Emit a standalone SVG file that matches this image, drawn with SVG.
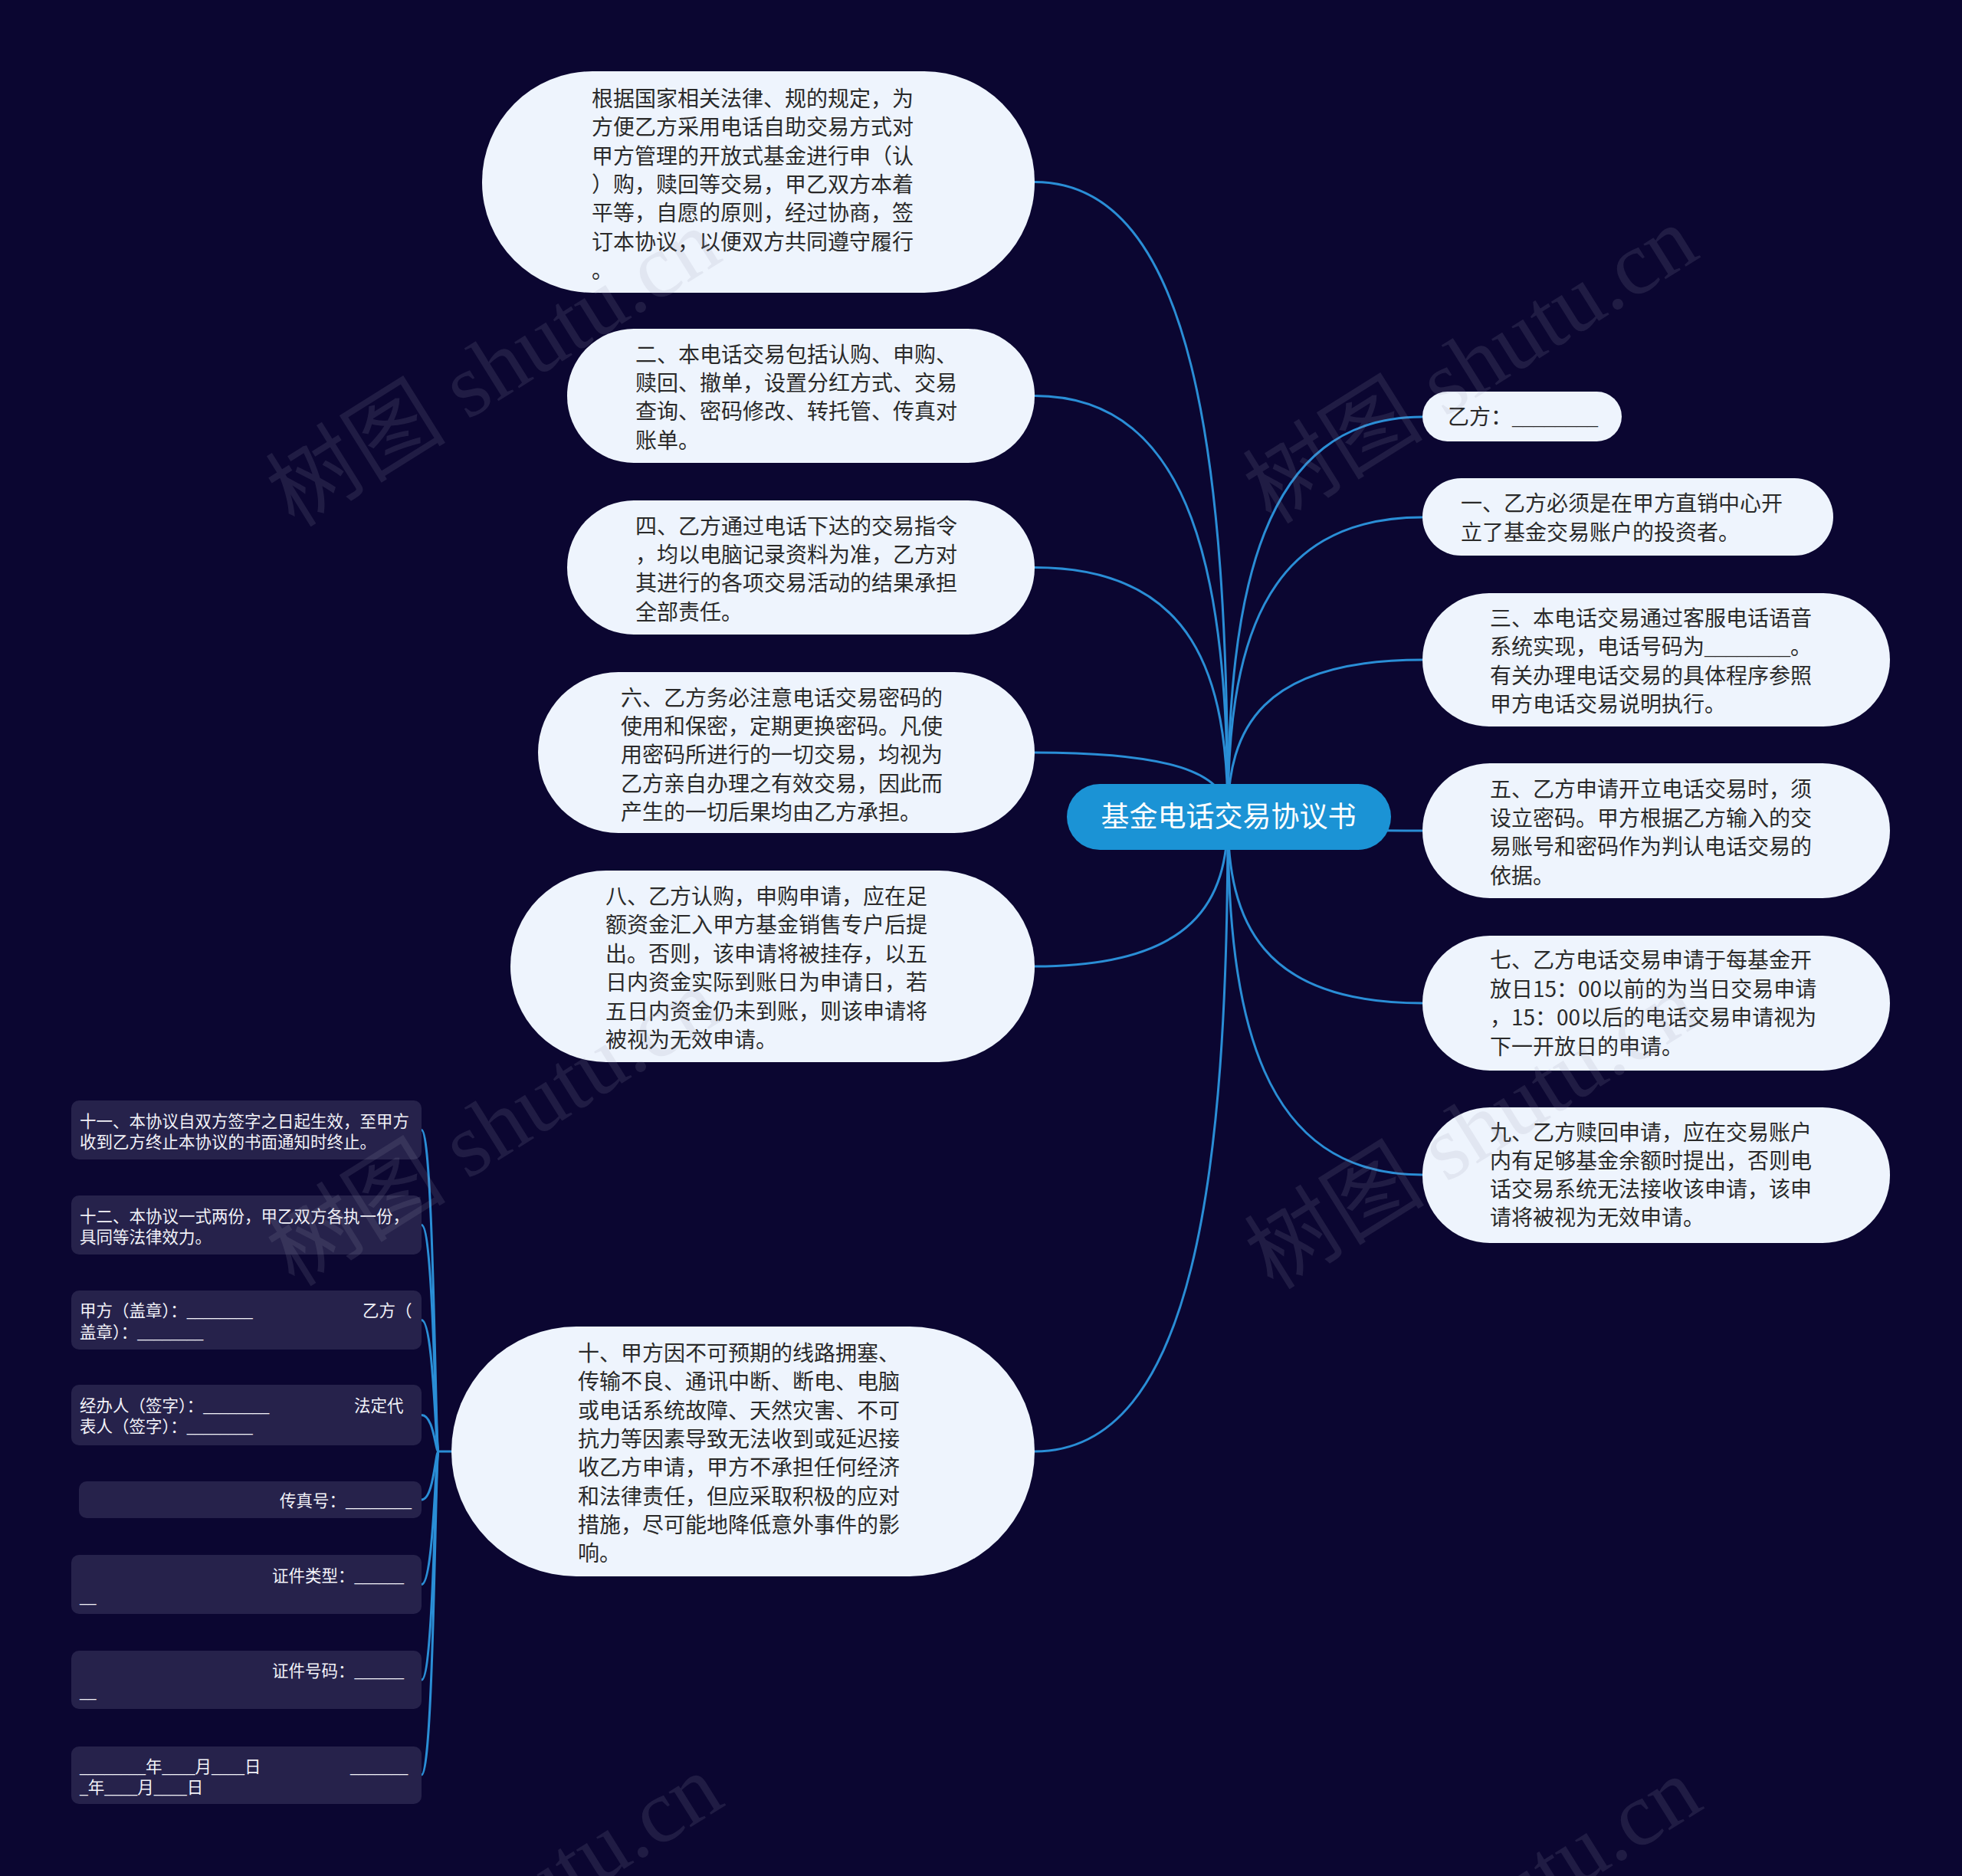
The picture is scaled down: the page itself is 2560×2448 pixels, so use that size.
<svg xmlns="http://www.w3.org/2000/svg" width="2560" height="2448" viewBox="0 0 2560 2448">
<style>
.bg{fill:#0b0631}
.pill{fill:#eef4fd}
.dark{fill:#26224b}
.root{fill:#1b93d5}
.t{font-family:"Noto Sans CJK SC","Noto Sans",sans-serif;font-size:28px;fill:#2a2a2a}
.dt{font-family:"Noto Sans CJK SC","Noto Sans",sans-serif;font-size:21.5px;fill:#f2f2f8}
.rt{font-family:"Noto Sans CJK SC","Noto Sans",sans-serif;font-size:37px;fill:#ffffff}
.u{font-family:"Liberation Serif",serif}
.link{fill:none;stroke:#2a8ed6;stroke-width:3}
.wm{font-family:"Liberation Serif","Noto Sans CJK SC",serif;font-size:118px;fill:#9a9ab0;opacity:0.15}
</style>
<rect class="bg" x="0" y="0" width="2560" height="2448"/>
<g id="connectors">
<path class="link" d="M1602,1066 C1602,602 1559,237.5 1350,237.5"/>
<path class="link" d="M1602,1066 C1602,758 1559,516.5 1350,516.5"/>
<path class="link" d="M1602,1066 C1602,884 1559,740.5 1350,740.5"/>
<path class="link" d="M1602,1066 C1602,1019 1559,982 1350,982"/>
<path class="link" d="M1602,1066 C1602,1175 1559,1261 1350,1261"/>
<path class="link" d="M1602,1066 C1602,1530 1559,1894 1350,1894"/>
<path class="link" d="M1602,1066 C1602,774 1645,544 1856,544"/>
<path class="link" d="M1602,1066 C1602,847 1645,675 1856,675"/>
<path class="link" d="M1602,1066 C1602,951 1645,861 1856,861"/>
<path class="link" d="M1602,1066 C1602,1076 1645,1084 1856,1084"/>
<path class="link" d="M1602,1066 C1602,1202 1645,1309 1856,1309"/>
<path class="link" d="M1602,1066 C1602,1328 1645,1533 1856,1533"/>
<path class="link" d="M590,1894 L572,1894"/>
<path class="link" d="M572,1894 C568,1894 566,1474.5 550,1474.5"/>
<path class="link" d="M572,1894 C568,1894 566,1598.5 550,1598.5"/>
<path class="link" d="M572,1894 C568,1894 566,1722.5 550,1722.5"/>
<path class="link" d="M572,1894 C568,1894 566,1846.5 550,1846.5"/>
<path class="link" d="M572,1894 C568,1894 566,1957 550,1957"/>
<path class="link" d="M572,1894 C568,1894 566,2067.5 550,2067.5"/>
<path class="link" d="M572,1894 C568,1894 566,2192 550,2192"/>
<path class="link" d="M572,1894 C568,1894 566,2316 550,2316"/>
</g>
<g id="root">
<rect class="root" x="1392" y="1023" width="423" height="86" rx="43"/>
<text class="rt" x="1603" y="1079" text-anchor="middle">基金电话交易协议书</text>
</g>
<g id="n1">
<rect class="pill" x="629" y="93" width="721" height="289" rx="144"/>
<text class="t" x="772" y="139"><tspan x="772">根据国家相关法律、规的规定，为</tspan><tspan x="772" dy="37.3">方便乙方采用电话自助交易方式对</tspan><tspan x="772" dy="37.3">甲方管理的开放式基金进行申（认</tspan><tspan x="772" dy="37.3">）购，赎回等交易，甲乙双方本着</tspan><tspan x="772" dy="37.3">平等，自愿的原则，经过协商，签</tspan><tspan x="772" dy="37.3">订本协议，以便双方共同遵守履行</tspan><tspan x="772" dy="37.3">。</tspan></text>
</g>
<g id="n2">
<rect class="pill" x="740" y="429" width="610" height="175" rx="87"/>
<text class="t" x="829" y="473"><tspan x="829">二、本电话交易包括认购、申购、</tspan><tspan x="829" dy="37.2">赎回、撤单，设置分红方式、交易</tspan><tspan x="829" dy="37.2">查询、密码修改、转托管、传真对</tspan><tspan x="829" dy="37.2">账单。</tspan></text>
</g>
<g id="n3">
<rect class="pill" x="740" y="653" width="610" height="175" rx="87"/>
<text class="t" x="829" y="697"><tspan x="829">四、乙方通过电话下达的交易指令</tspan><tspan x="829" dy="37.2">，均以电脑记录资料为准，乙方对</tspan><tspan x="829" dy="37.2">其进行的各项交易活动的结果承担</tspan><tspan x="829" dy="37.2">全部责任。</tspan></text>
</g>
<g id="n4">
<rect class="pill" x="702" y="877" width="648" height="210" rx="105"/>
<text class="t" x="810" y="921"><tspan x="810">六、乙方务必注意电话交易密码的</tspan><tspan x="810" dy="37.2">使用和保密，定期更换密码。凡使</tspan><tspan x="810" dy="37.2">用密码所进行的一切交易，均视为</tspan><tspan x="810" dy="37.2">乙方亲自办理之有效交易，因此而</tspan><tspan x="810" dy="37.2">产生的一切后果均由乙方承担。</tspan></text>
</g>
<g id="n5">
<rect class="pill" x="666" y="1136" width="684" height="250" rx="125"/>
<text class="t" x="790" y="1180"><tspan x="790">八、乙方认购，申购申请，应在足</tspan><tspan x="790" dy="37.4">额资金汇入甲方基金销售专户后提</tspan><tspan x="790" dy="37.4">出。否则，该申请将被挂存，以五</tspan><tspan x="790" dy="37.4">日内资金实际到账日为申请日，若</tspan><tspan x="790" dy="37.4">五日内资金仍未到账，则该申请将</tspan><tspan x="790" dy="37.4">被视为无效申请。</tspan></text>
</g>
<g id="n6">
<rect class="pill" x="589" y="1731" width="761" height="326" rx="163"/>
<text class="t" x="754" y="1776"><tspan x="754">十、甲方因不可预期的线路拥塞、</tspan><tspan x="754" dy="37.3">传输不良、通讯中断、断电、电脑</tspan><tspan x="754" dy="37.3">或电话系统故障、天然灾害、不可</tspan><tspan x="754" dy="37.3">抗力等因素导致无法收到或延迟接</tspan><tspan x="754" dy="37.3">收乙方申请，甲方不承担任何经济</tspan><tspan x="754" dy="37.3">和法律责任，但应采取积极的应对</tspan><tspan x="754" dy="37.3">措施，尽可能地降低意外事件的影</tspan><tspan x="754" dy="37.3">响。</tspan></text>
</g>
<g id="r1">
<rect class="pill" x="1856" y="511" width="260" height="65" rx="32.5"/>
<text class="t" x="1889" y="554">乙方：<tspan class="u">________</tspan></text>
</g>
<g id="r2">
<rect class="pill" x="1856" y="624" width="536" height="101" rx="50.5"/>
<text class="t" x="1906" y="667"><tspan x="1906">一、乙方必须是在甲方直销中心开</tspan><tspan x="1906" dy="38">立了基金交易账户的投资者。</tspan></text>
</g>
<g id="r3">
<rect class="pill" x="1856" y="774" width="610" height="174" rx="87"/>
<text class="t" x="1944" y="817"><tspan x="1944">三、本电话交易通过客服电话语音</tspan><tspan x="1944" dy="37.3">系统实现，电话号码为<tspan class="u">________</tspan>。</tspan><tspan x="1944" dy="37.3">有关办理电话交易的具体程序参照</tspan><tspan x="1944" dy="37.3">甲方电话交易说明执行。</tspan></text>
</g>
<g id="r4">
<rect class="pill" x="1856" y="996" width="610" height="176" rx="88"/>
<text class="t" x="1944" y="1040"><tspan x="1944">五、乙方申请开立电话交易时，须</tspan><tspan x="1944" dy="37.5">设立密码。甲方根据乙方输入的交</tspan><tspan x="1944" dy="37.5">易账号和密码作为判认电话交易的</tspan><tspan x="1944" dy="37.5">依据。</tspan></text>
</g>
<g id="r5">
<rect class="pill" x="1856" y="1221" width="610" height="176" rx="88"/>
<text class="t" x="1944" y="1263"><tspan x="1944">七、乙方电话交易申请于每基金开</tspan><tspan x="1944" dy="37.6">放日15：00以前的为当日交易申请</tspan><tspan x="1944" dy="37.6">，15：00以后的电话交易申请视为</tspan><tspan x="1944" dy="37.6">下一开放日的申请。</tspan></text>
</g>
<g id="r6">
<rect class="pill" x="1856" y="1445" width="610" height="177" rx="88"/>
<text class="t" x="1944" y="1488"><tspan x="1944">九、乙方赎回申请，应在交易账户</tspan><tspan x="1944" dy="37">内有足够基金余额时提出，否则电</tspan><tspan x="1944" dy="37">话交易系统无法接收该申请，该申</tspan><tspan x="1944" dy="37">请将被视为无效申请。</tspan></text>
</g>
<g id="l1">
<rect class="dark" x="93" y="1436" width="457" height="77" rx="10"/>
<text class="dt" x="104" y="1471"><tspan x="104">十一、本协议自双方签字之日起生效，至甲方</tspan><tspan x="104" dy="27">收到乙方终止本协议的书面通知时终止。</tspan></text>
</g>
<g id="l2">
<rect class="dark" x="93" y="1560" width="457" height="77" rx="10"/>
<text class="dt" x="104" y="1595"><tspan x="104">十二、本协议一式两份，甲乙双方各执一份，</tspan><tspan x="104" dy="27">具同等法律效力。</tspan></text>
</g>
<g id="l3">
<rect class="dark" x="93" y="1684" width="457" height="77" rx="10"/>
<text class="dt" x="104" y="1718"><tspan x="104">甲方（盖章）：<tspan class="u">________</tspan></tspan><tspan x="473">乙方（</tspan><tspan x="104" dy="28">盖章）：<tspan class="u">________</tspan></tspan></text>
</g>
<g id="l4">
<rect class="dark" x="93" y="1807" width="457" height="79" rx="10"/>
<text class="dt" x="104" y="1842"><tspan x="104">经办人（签字）：<tspan class="u">________</tspan></tspan><tspan x="462">法定代</tspan><tspan x="104" dy="27">表人（签字）：<tspan class="u">________</tspan></tspan></text>
</g>
<g id="l5">
<rect class="dark" x="103" y="1933" width="447" height="48" rx="10"/>
<text class="dt" x="365" y="1966">传真号：<tspan class="u">________</tspan></text>
</g>
<g id="l6">
<rect class="dark" x="93" y="2029" width="457" height="77" rx="10"/>
<text class="dt" x="355" y="2064"><tspan x="355">证件类型：<tspan class="u">______</tspan></tspan><tspan x="104" dy="27" class="u">__</tspan></text>
</g>
<g id="l7">
<rect class="dark" x="93" y="2154" width="457" height="76" rx="10"/>
<text class="dt" x="355" y="2188"><tspan x="355">证件号码：<tspan class="u">______</tspan></tspan><tspan x="104" dy="27" class="u">__</tspan></text>
</g>
<g id="l8">
<rect class="dark" x="93" y="2279" width="457" height="75" rx="10"/>
<text class="dt" x="104" y="2313"><tspan x="104"><tspan class="u">________</tspan>年<tspan class="u">____</tspan>月<tspan class="u">____</tspan>日</tspan><tspan x="457" class="u">_______</tspan><tspan x="104" dy="27"><tspan class="u">_</tspan>年<tspan class="u">____</tspan>月<tspan class="u">____</tspan>日</tspan></text>
</g>
<g id="watermarks">
<text class="wm" text-anchor="middle" transform="translate(665,514) rotate(-32)">树图 shutu.cn</text>
<text class="wm" text-anchor="middle" transform="translate(1940,510) rotate(-32)">树图 shutu.cn</text>
<text class="wm" text-anchor="middle" transform="translate(665,1505) rotate(-32)">树图 shutu.cn</text>
<text class="wm" text-anchor="middle" transform="translate(1942,1509) rotate(-32)">树图 shutu.cn</text>
<text class="wm" text-anchor="middle" transform="translate(668,2530) rotate(-32)">树图 shutu.cn</text>
<text class="wm" text-anchor="middle" transform="translate(1945,2534) rotate(-32)">树图 shutu.cn</text>
</g>
</svg>
